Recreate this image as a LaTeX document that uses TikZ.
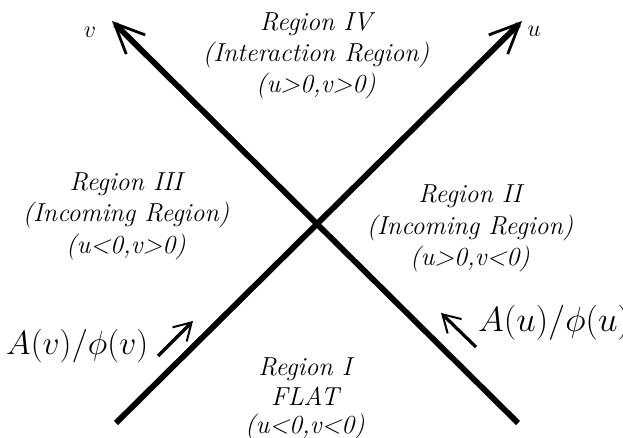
\RequirePackage{fix-cm}
\documentclass[tikz,border=0pt]{standalone}
\usetikzlibrary{arrows.meta}
\tikzset{
  regtext/.style={font=\fontsize{26}{31}\selectfont\itshape, inner sep=0pt, anchor=base},
  axislbl/.style={font=\fontsize{24}{29}\selectfont, inner sep=0pt, anchor=base},
  fieldlbl/.style={font=\fontsize{33.5}{40}\selectfont, inner sep=0pt, anchor=base west},
  axisline/.style={line width=5.8pt, -{Straight Barb[length=30pt,width=27pt,line width=2.8pt]}},
  flowarrow/.style={line width=3.2pt, -{Straight Barb[length=17pt,width=20pt,line width=2pt]}}
}
\begin{document}
\begin{tikzpicture}[x=1pt,y=-1pt]
\useasboundingbox (0,0) rectangle (623,438);
% axes
\coordinate (uS) at (116,423);
\coordinate (uE) at (522,21);
\coordinate (vS) at (518,423);
\coordinate (vE) at (112,21);
\draw[axisline] (uS) -- (uE);
\draw[axisline] (vS) -- (vE);
\node[axislbl] (vl) at (90,38) {$v$};
\node[axislbl] (ul) at (534,37) {$u$};
% region IV
\node[regtext] (r4a) at (316,31) {Region IV};
\node[regtext] (r4b) at (316,62) {(Interaction Region)};
\node[regtext] (r4c) at (316,93) {(u>0,v>0)};
% region III
\node[regtext] (r3a) at (126,191) {Region III};
\node[regtext] (r3b) at (126,222) {(Incoming Region)};
\node[regtext] (r3c) at (126,253) {(u<0,v>0)};
% region II
\node[regtext] (r2a) at (470,203) {Region II};
\node[regtext] (r2b) at (470,234) {(Incoming Region)};
\node[regtext] (r2c) at (470,265) {(u>0,v<0)};
% region I
\node[regtext] (r1a) at (305,375) {Region I};
\node[regtext] (r1b) at (305,405) {FLAT};
\node[regtext] (r1c) at (305,433) {(u<0,v<0)};
% incoming fields
\node[fieldlbl] (lv) at (6,354) {$A(v)/\phi(v)$};
\node[fieldlbl, font=\fontsize{35}{42}\selectfont] (lu) at (478,331) {$A(u)/\phi(u)$};
\coordinate (aS) at (158,356);
\coordinate (aE) at (193,321);
\coordinate (bS) at (476,347);
\coordinate (bE) at (441,313);
\draw[flowarrow] (aS) -- (aE);
\draw[flowarrow] (bS) -- (bE);
\end{tikzpicture}
\end{document}
